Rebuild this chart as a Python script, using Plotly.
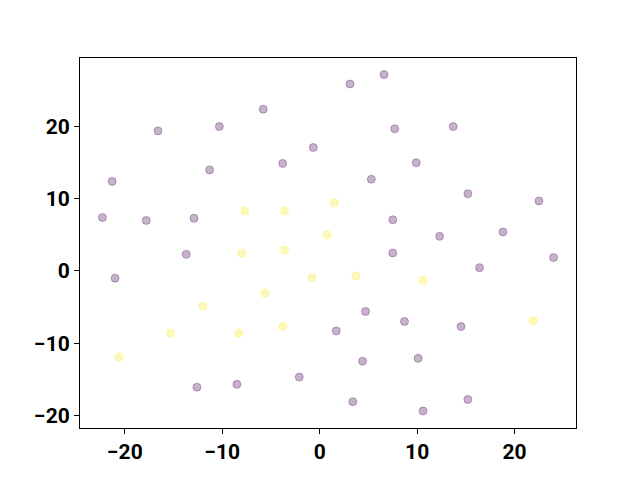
import plotly.graph_objects as go

# Class 0 (purple) points
x0 = [-16.6, -10.3, -5.8, -0.66, -21.3, -11.3, -3.8, -22.3, -17.8, -12.9,
      3.1, 6.6, 7.7, 13.7, 9.9, 5.3, 15.2, 22.5, 7.5, 12.3, 18.8,
      -13.7, -21.0, -12.6, -8.5, -2.1,
      7.5, 24.0, 16.4, 4.7, 8.7, 1.7, 14.5, 4.4, 10.1, 3.4, 10.6, 15.2]
y0 = [19.4, 20.0, 22.4, 17.1, 12.4, 14.0, 14.9, 7.4, 7.0, 7.3,
      25.9, 27.2, 19.7, 20.0, 15.0, 12.7, 10.7, 9.7, 7.1, 4.8, 5.4,
      2.3, -1.0, -16.1, -15.7, -14.7,
      2.5, 1.85, 0.46, -5.6, -7.0, -8.3, -7.7, -12.5, -12.1, -18.1, -19.4, -17.8]

# Class 1 (yellow) points
x1 = [-7.7, -3.6, 0.75, 1.5, -8.0, -3.6, -0.8, -5.6, -12.0, -15.3, -8.3,
      -3.8, -20.6, 3.7, 10.6, 21.9]
y1 = [8.3, 8.3, 5.0, 9.4, 2.5, 2.9, -0.9, -3.1, -4.9, -8.6, -8.6,
      -7.7, -11.9, -0.65, -1.3, -6.9]

x_ticks = [-20, -10, 0, 10, 20]
y_ticks = [-20, -10, 0, 10, 20]

purple = "rgba(68,1,84,0.3)"
yellow = "rgba(253,231,37,0.3)"

fig = go.Figure()
fig.add_trace(go.Scatter(x=x0, y=y0, mode="markers",
                         marker=dict(size=8, color=purple, line=dict(color=purple, width=1))))
fig.add_trace(go.Scatter(x=x1, y=y1, mode="markers",
                         marker=dict(size=8, color=yellow, line=dict(color=yellow, width=1))))

axis_common = dict(showgrid=False, zeroline=False, showline=True, mirror=True,
                   linecolor="black", linewidth=1, ticks="outside", ticklen=5,
                   tickwidth=1, tickcolor="black", automargin=False,
                   tickfont=dict(family="Roboto", size=21, color="black", weight="bold"))

fig.update_layout(
    width=640, height=480,
    margin=dict(l=72, r=72, t=50, b=60),
    paper_bgcolor="white", plot_bgcolor="white",
    showlegend=False,
    xaxis=dict(range=[-24.6, 26.3], tickvals=x_ticks, **axis_common),
    yaxis=dict(range=[-21.75, 29.5], tickvals=y_ticks, **axis_common),
)

fig.write_html("out.html")
